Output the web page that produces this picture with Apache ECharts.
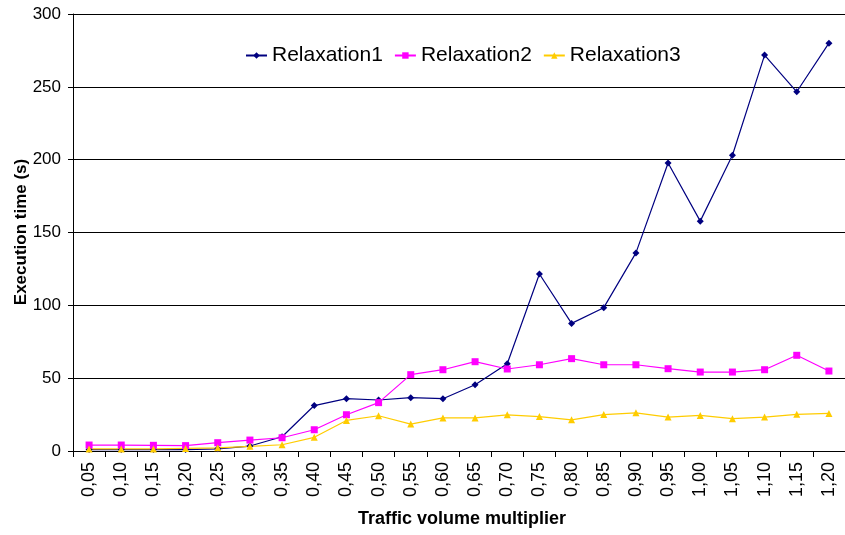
<!DOCTYPE html>
<html><head><meta charset="utf-8">
<script src="https://cdn.jsdelivr.net/npm/echarts@6/dist/echarts.min.js"></script>
<style>html,body{margin:0;padding:0;background:#fff}#c{width:845px;height:535px}</style>
</head><body><div id="c"></div>
<script>
const categories = ['0,05','0,10','0,15','0,20','0,25','0,30','0,35','0,40','0,45','0,50','0,55','0,60','0,65','0,70','0,75','0,80','0,85','0,90','0,95','1,00','1,05','1,10','1,15','1,20'];
const relaxation1 = [1,1,1,1,1.5,3.4,9.8,31.2,35.9,35,36.6,35.9,45.5,59.9,121.5,87.6,98.4,136,197.7,157.8,203,271.8,246.6,280];
const relaxation2 = [4.1,4.1,3.9,3.7,5.7,7.5,9.1,14.6,24.9,33.2,52.4,55.8,61.3,56.3,59.2,63.4,59.2,59.2,56.5,54.2,54.2,55.8,65.7,54.9];
const relaxation3 = [1.4,1.4,1.4,1.8,2.2,3.2,4.3,9.4,21,24.2,18.5,22.7,22.7,24.8,23.6,21.4,25,26.2,23.3,24.4,22.2,23.3,25.2,25.8];
const yTicks = [0,50,100,150,200,250,300];

const chart = echarts.init(document.getElementById('c'));
const font = 'Liberation Sans, Arial, sans-serif';
chart.setOption({
  animation:false,
  backgroundColor:'#fff',
  grid:{left:73, top:14, width:778, height:437, containLabel:false},
  legend:{
    top:40, left:240, itemGap:11, itemWidth:21, itemHeight:8,
    textStyle:{fontFamily:font, fontSize:21, color:'#000'},
    data:['Relaxation1','Relaxation2','Relaxation3']
  },
  xAxis:{
    type:'category', data:categories, boundaryGap:true,
    axisLine:{lineStyle:{color:'#000', width:1}},
    axisTick:{show:true, length:6, lineStyle:{color:'#000'}},
    axisLabel:{rotate:90, fontFamily:font, fontSize:18, color:'#000', margin:11, interval:0}
  },
  yAxis:{
    type:'value', min:0, max:300, interval:50,
    axisLine:{show:true, lineStyle:{color:'#000', width:1}},
    axisTick:{show:true, length:5, inside:false, lineStyle:{color:'#000'}},
    axisLabel:{fontFamily:font, fontSize:17, color:'#000', margin:12,
      formatter:v=>yTicks.includes(v)?String(v):''},
    splitLine:{show:true, lineStyle:{color:'#000', width:1}}
  },
  graphic:[
    {type:'text', x:462, y:519,
      style:{text:'Traffic volume multiplier', font:'bold 18px Liberation Sans, Arial, sans-serif', fill:'#000', align:'center', verticalAlign:'middle'}},
    {type:'text', x:21, y:232, rotation:Math.PI/2,
      style:{text:'Execution time (s)', font:'bold 17px Liberation Sans, Arial, sans-serif', fill:'#000', align:'center', verticalAlign:'middle'}}
  ],
  series:[
    {name:'Relaxation1', type:'line', data:relaxation1, symbol:'diamond', symbolSize:7,
      itemStyle:{color:'#000080'}, lineStyle:{color:'#000080', width:1.2}},
    {name:'Relaxation2', type:'line', data:relaxation2, symbol:'rect', symbolSize:7,
      itemStyle:{color:'#FF00FF'}, lineStyle:{color:'#FF00FF', width:1.2}},
    {name:'Relaxation3', type:'line', data:relaxation3, symbol:'triangle', symbolSize:7,
      itemStyle:{color:'#FFCC00'}, lineStyle:{color:'#FFCC00', width:1.2}}
  ]
});
</script></body></html>
